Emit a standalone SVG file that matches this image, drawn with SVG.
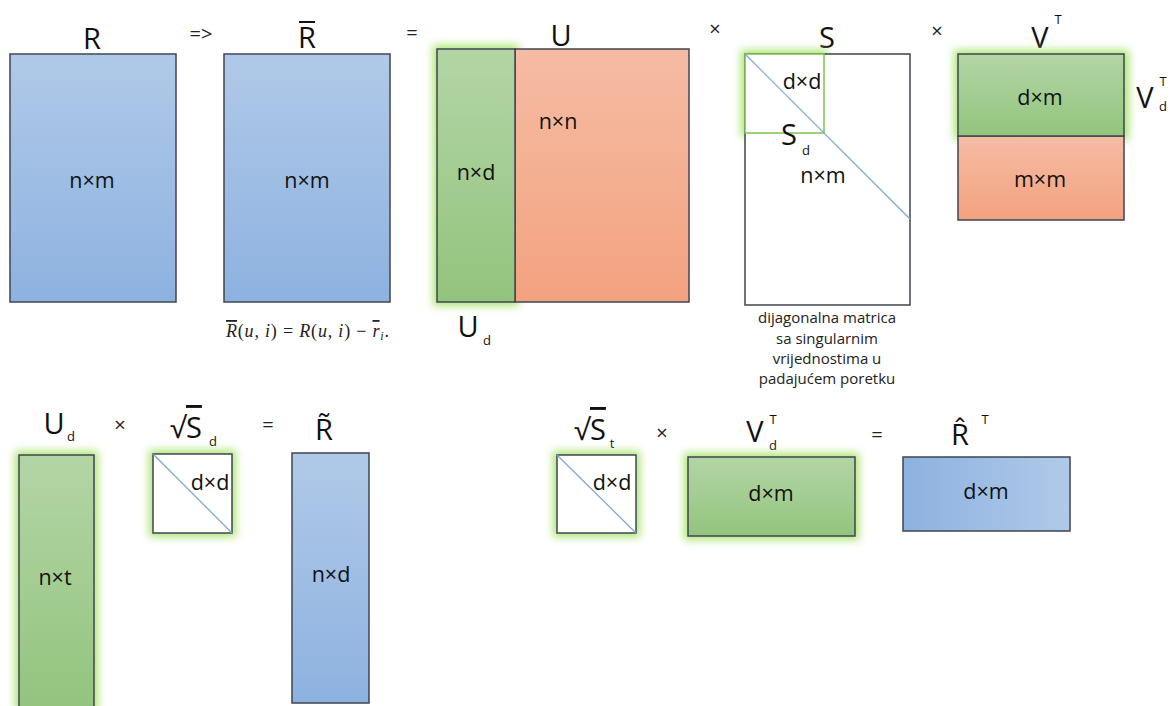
<svg xmlns="http://www.w3.org/2000/svg" width="1171" height="706" viewBox="0 0 1171 706">
<defs>
<linearGradient id="gBlue" x1="0" y1="0" x2="0" y2="1"><stop offset="0" stop-color="#b0c9e8"/><stop offset="1" stop-color="#8db2e0"/></linearGradient>
<linearGradient id="gBlueH" x1="0" y1="0" x2="1" y2="0"><stop offset="0" stop-color="#8db2e0"/><stop offset="1" stop-color="#b0c9e8"/></linearGradient>
<linearGradient id="gGreen" x1="0" y1="0" x2="0" y2="1"><stop offset="0" stop-color="#b3d5a5"/><stop offset="1" stop-color="#93c47e"/></linearGradient>
<linearGradient id="gOrange" x1="0" y1="0" x2="0" y2="1"><stop offset="0" stop-color="#f5bca4"/><stop offset="1" stop-color="#f3a27f"/></linearGradient>
<filter id="glow" x="-30%" y="-30%" width="160%" height="160%"><feGaussianBlur stdDeviation="4"/></filter>
</defs>
<style>
.box{stroke:#3f4650;stroke-width:1.5}
.halo{fill:#a8e36c;filter:url(#glow);opacity:0.95}
.diag{stroke:#7aa6d6;stroke-width:1.2}
.big{font-family:"Open Sans","Noto Sans",sans-serif;font-size:29px;fill:#111;text-anchor:middle}
.dim{font-family:"Open Sans","Noto Sans",sans-serif;font-size:21.5px;fill:#111;text-anchor:middle}
.op{font-family:"Open Sans","Noto Sans",sans-serif;font-size:20px;fill:#222;text-anchor:middle}
.sub{font-family:"Open Sans","Noto Sans",sans-serif;font-size:13px;fill:#111;text-anchor:middle}
.cap{font-family:"Open Sans","Noto Sans",sans-serif;font-size:15px;fill:#222;text-anchor:middle}
.math{font-family:"Liberation Serif",serif;font-size:18px;fill:#222}
</style>
<rect width="1171" height="706" fill="#ffffff"/>

<g id="R">
<text class="big" x="92" y="49">R</text>
<rect class="box" x="10" y="54" width="166" height="248" fill="url(#gBlue)"/>
<text class="dim" x="92" y="188">n×m</text>
</g>
<text class="op" x="201" y="41">=&gt;</text>

<g id="Rbar">
<text class="big" x="307" y="48">R</text>
<line x1="299" y1="22" x2="315" y2="22" stroke="#111" stroke-width="2"/>
<rect class="box" x="224" y="54" width="166" height="248" fill="url(#gBlue)"/>
<text class="dim" x="307" y="188">n×m</text>
<text class="math" x="226" y="337" textLength="163" lengthAdjust="spacing"><tspan font-style="italic" text-decoration="overline">R</tspan>(<tspan font-style="italic">u</tspan>, <tspan font-style="italic">i</tspan>) = <tspan font-style="italic">R</tspan>(<tspan font-style="italic">u</tspan>, <tspan font-style="italic">i</tspan>) − <tspan font-style="italic" text-decoration="overline">r</tspan><tspan font-style="italic" font-size="12" dy="3">i</tspan><tspan dy="-3">.</tspan></text>
</g>
<text class="op" x="412" y="40">=</text>

<g id="U">
<text class="big" x="561" y="46">U</text>
<rect class="halo" x="433" y="45" width="86" height="261"/>
<rect class="box" x="515" y="49" width="174" height="253" fill="url(#gOrange)"/>
<rect class="box" x="437" y="49" width="78" height="253" fill="url(#gGreen)"/>
<text class="dim" x="558" y="129">n×n</text>
<text class="dim" x="476" y="180">n×d</text>
<text class="big" x="468" y="337">U</text>
<text class="sub" x="487" y="345">d</text>
</g>
<text class="op" x="715" y="36">×</text>

<g id="S">
<text class="big" x="827" y="48">S</text>
<rect class="halo" x="741" y="50" width="87" height="87"/>
<rect class="box" x="745" y="54" width="165" height="251" fill="#ffffff"/>
<rect x="745" y="54" width="79" height="79" fill="#ffffff" stroke="#7fc250" stroke-width="1.5"/>
<line class="diag" x1="745" y1="54" x2="910" y2="219"/>
<text class="dim" x="802" y="89">d×d</text>
<text class="big" x="789" y="145">S</text>
<text class="sub" x="806" y="155">d</text>
<text class="dim" x="823" y="183">n×m</text>
<text class="cap" x="827" y="323">dijagonalna matrica</text>
<text class="cap" x="827" y="344">sa singularnim</text>
<text class="cap" x="827" y="364">vrijednostima u</text>
<text class="cap" x="827" y="384">padajućem poretku</text>
</g>
<text class="op" x="937" y="38">×</text>

<g id="VT">
<text class="big" x="1040" y="48">V</text>
<text class="sub" x="1058" y="24">T</text>
<rect class="halo" x="954" y="50" width="175" height="90"/>
<rect class="box" x="958" y="136" width="166" height="84" fill="url(#gOrange)"/>
<rect class="box" x="958" y="54" width="166" height="82" fill="url(#gGreen)"/>
<text class="dim" x="1040" y="105">d×m</text>
<text class="dim" x="1040" y="187">m×m</text>
<text class="big" x="1145" y="108">V</text>
<text class="sub" x="1163" y="86">T</text>
<text class="sub" x="1163" y="111">d</text>
</g>

<g id="Ud">
<text class="big" x="54" y="434">U</text>
<text class="sub" x="71" y="441">d</text>
<rect class="halo" x="15" y="451" width="83" height="262"/>
<rect class="box" x="19" y="455" width="75" height="256" fill="url(#gGreen)"/>
<text class="dim" x="55" y="585">n×t</text>
</g>
<text class="op" x="120" y="432">×</text>

<g id="sqrtSd">
<text class="big" x="186" y="438">√<tspan text-decoration="overline">S</tspan></text>
<text class="sub" x="213" y="446">d</text>
<rect class="halo" x="149" y="450" width="87" height="87"/>
<rect class="box" x="153" y="454" width="79" height="79" fill="#ffffff"/>
<line class="diag" x1="153" y1="454" x2="232" y2="533"/>
<text class="dim" x="210" y="490">d×d</text>
</g>
<text class="op" x="268" y="432">=</text>

<g id="Rtilde">
<text class="big" x="324" y="440">R̃</text>
<rect class="box" x="292" y="453" width="77" height="250" fill="url(#gBlue)"/>
<text class="dim" x="331" y="582">n×d</text>
</g>

<g id="sqrtSt">
<text class="big" x="590" y="440">√<tspan text-decoration="overline">S</tspan></text>
<text class="sub" x="612" y="448">t</text>
<rect class="halo" x="553" y="451" width="87" height="86"/>
<rect class="box" x="557" y="455" width="79" height="78" fill="#ffffff"/>
<line class="diag" x1="557" y1="455" x2="636" y2="533"/>
<text class="dim" x="612" y="490">d×d</text>
</g>
<text class="op" x="662" y="440">×</text>

<g id="VdT">
<text class="big" x="755" y="442">V</text>
<text class="sub" x="773" y="424">T</text>
<text class="sub" x="773" y="450">d</text>
<rect class="halo" x="684" y="453" width="175" height="87"/>
<rect class="box" x="688" y="457" width="167" height="79" fill="url(#gGreen)"/>
<text class="dim" x="771" y="501">d×m</text>
</g>
<text class="op" x="877" y="442">=</text>

<g id="RhatT">
<text class="big" x="960" y="445">R̂</text>
<text class="sub" x="985" y="424">T</text>
<rect class="box" x="903" y="457" width="167" height="74" fill="url(#gBlueH)"/>
<text class="dim" x="986" y="499">d×m</text>
</g>
</svg>
